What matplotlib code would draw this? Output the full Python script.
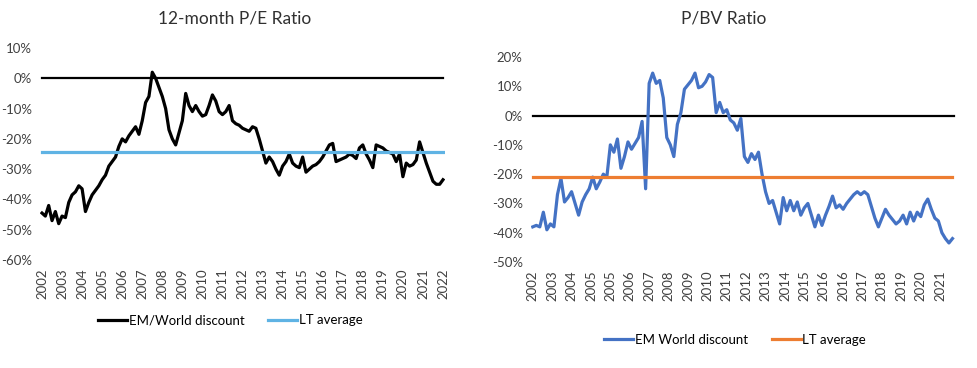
import numpy as np
import matplotlib
matplotlib.use('Agg')
import matplotlib.pyplot as plt

plt.rcParams['font.family'] = ['Lato', 'DejaVu Sans']
plt.rcParams['axes.unicode_minus'] = False

# 12-month P/E: EM/World discount (%), bimonthly from 2002
pe_years = list(range(2002, 2023))
pe_disc = [-44.5, -45.5, -42, -47, -44, -48, -45.5, -46, -41, -38.5,
           -37.5, -35.5, -36.5, -44, -41, -38.5, -37, -35.5, -33.5, -32,
           -29, -27.5, -26, -22.5, -20, -21, -19, -17.5, -16, -18.5,
           -14, -8, -6, 2, 0, -3, -6, -10, -17, -20,
           -22, -18, -14, -5, -9, -11, -9, -11, -12.5, -12,
           -9, -5.5, -7.5, -11, -12, -11, -9, -14, -15, -15.5,
           -16.5, -17, -17.5, -16, -16.5, -20, -24, -28, -26, -27.5,
           -30, -32, -29, -27.5, -25, -28, -29, -29.5, -26, -31,
           -30, -29, -28.5, -27.5, -26, -24, -22, -21.5, -27.5, -27,
           -26.5, -26, -25, -25.5, -26.5, -23, -22, -25, -27, -29.5,
           -22, -22.5, -23, -24, -24.5, -25, -27.5, -25, -32.5, -28,
           -29, -28.5, -27, -21, -24.5, -28, -31, -34, -35, -35,
           -33.5]
pe_lt = -24.2

# P/BV: EM World discount (%), bimonthly
pb_labels = ['2002', '2003', '2004', '2005', '2005', '2006', '2007', '2008',
             '2009', '2010', '2011', '2012', '2013', '2014', '2015', '2016',
             '2016', '2017', '2018', '2019', '2020', '2021']
pb_disc = [-38, -37.5, -38, -33, -39, -37, -38, -27, -21.5, -29.5,
           -28, -26, -30, -34, -29.5, -27, -25, -21, -25, -22.7,
           -20, -21, -10, -12.5, -8, -18, -14, -9, -11.5, -9.5,
           -7.5, -2, -25, 11, 14.5, 11, 12, 6, -7.5, -10,
           -14, -3, 1, 9, 10.5, 12, 14.5, 9.5, 10, 11.5,
           14, 13, 1, 4.5, 1, 2, -1.5, -2.5, -5, -1,
           -14, -16, -13, -15, -12.5, -20, -26, -30, -29, -33,
           -37, -28, -32.5, -29, -32.5, -29.5, -34, -31.5, -30, -34,
           -38, -34, -37.5, -34, -31, -27.5, -31.5, -30.5, -32, -30,
           -28.5, -27, -26, -27, -26, -27, -31, -35, -38, -35,
           -32, -34, -35.5, -37, -36, -34, -37, -33, -36, -33,
           -34.5, -30.5, -28.5, -32, -35, -36, -40, -42, -43.5, -42]
pb_lt = -21

fig = plt.figure(figsize=(9.77, 3.68), dpi=100)

# left chart
ax1 = fig.add_axes([40 / 977, 1 - 260 / 368, 405 / 977, 212 / 368])
x1 = 2002 + np.arange(len(pe_disc)) / 6
ax1.axhline(0, xmin=0.005, xmax=0.995, color='black', lw=1.6)
ax1.plot(x1, pe_disc, color='black', lw=2.3, label='EM/World discount')
ax1.plot([x1[0], x1[-1]], [pe_lt, pe_lt], color='#5FB3E4', lw=2.3, label='LT average')
ax1.set_xlim(2001.9, 2022.1)
ax1.set_ylim(-60, 10)
ax1.set_yticks(np.arange(-60, 11, 10))
ax1.set_yticklabels([f'{v}%' for v in range(-60, 11, 10)])
ax1.set_xticks(pe_years)
ax1.set_xticklabels([str(y) for y in pe_years], rotation=90)
fig.text(235 / 977, 1 - 18 / 368, '12-month P/E Ratio', fontsize=12.5, color='#303030',
         ha='center', va='center')
ax1.legend(loc='center', bbox_to_anchor=(0.47, -0.285), ncol=2, frameon=False,
           fontsize=9.5, handlelength=2.2, columnspacing=1.8, handletextpad=0.1)

# right chart
ax2 = fig.add_axes([531 / 977, 1 - 262 / 368, 425 / 977, 205 / 368])
x2 = np.arange(len(pb_disc)) * 2
ax2.axhline(0, xmin=0.005, xmax=0.995, color='black', lw=1.6)
ax2.plot(x2, pb_disc, color='#4472C4', lw=2.3, label='EM World discount')
ax2.plot([x2[0], x2[-1]], [pb_lt, pb_lt], color='#ED7D31', lw=2.3, label='LT average')
ax2.set_xlim(-1, 240)
ax2.set_ylim(-50, 20)
ax2.set_yticks(np.arange(-50, 21, 10))
ax2.set_yticklabels([f'{v}%' for v in range(-50, 21, 10)])
ax2.set_xticks(np.arange(len(pb_labels)) * 11)
ax2.set_xticklabels(pb_labels, rotation=90)
fig.text(724 / 977, 1 - 18 / 368, 'P/BV Ratio', fontsize=12.5, color='#303030',
         ha='center', va='center')
ax2.legend(loc='center', bbox_to_anchor=(0.48, -0.38), ncol=2, frameon=False,
           fontsize=9.5, handlelength=2.2, columnspacing=1.8, handletextpad=0.1)

for ax in (ax1, ax2):
    for s in ax.spines.values():
        s.set_visible(False)
    ax.tick_params(length=0, labelsize=9.5, labelcolor='#404040', pad=6)

fig.savefig('out.png', dpi=100, facecolor='white')
